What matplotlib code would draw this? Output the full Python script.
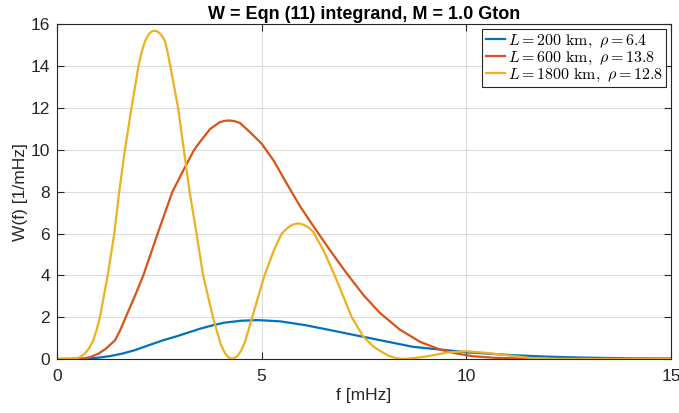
import matplotlib
matplotlib.use("Agg")
from matplotlib import pyplot as plt

# curves, f in mHz, W in 1/mHz
f_200 = [0, 0.6, 1.01, 1.3, 1.58, 1.9, 2.23, 2.6, 2.9, 3.2, 3.5, 3.82, 4.1, 4.5,
         4.9, 5.0, 5.45, 6.06, 6.5, 7.08, 7.89, 8.7, 9.52, 10.0, 11.15, 12.0,
         12.78, 14.0, 15.0]
w_200 = [0, 0.0, 0.06, 0.14, 0.25, 0.42, 0.65, 0.9, 1.07, 1.26, 1.45, 1.62, 1.74,
         1.83, 1.86, 1.85, 1.8, 1.62, 1.45, 1.22, 0.9, 0.58, 0.42, 0.32, 0.18,
         0.11, 0.07, 0.03, 0.02]

f_600 = [0, 0.6, 0.8, 1.01, 1.2, 1.42, 1.55, 1.68, 1.9, 2.11, 2.46, 2.82, 3.08,
         3.35, 3.5, 3.74, 3.98, 4.1, 4.21, 4.33, 4.47, 4.71, 5.0, 5.29, 5.61,
         5.94, 6.22, 6.67, 7.08, 7.49, 7.89, 8.38, 8.87, 9.36, 9.76, 10.17,
         10.74, 11.55, 12.5, 15.0]
w_600 = [0, 0.02, 0.08, 0.25, 0.5, 0.9, 1.4, 2.0, 3.0, 4.0, 6.0, 8.0, 9.0,
         10.0, 10.4, 11.0, 11.33, 11.39, 11.41, 11.38, 11.29, 10.86, 10.3, 9.5,
         8.4, 7.3, 6.48, 5.2, 4.09, 3.05, 2.2, 1.4, 0.82, 0.45, 0.26, 0.13,
         0.05, 0.02, 0.0, 0.0]

f_1800 = [0, 0.3, 0.44, 0.55, 0.68, 0.78, 0.89, 0.97, 1.05, 1.24, 1.4, 1.52,
          1.66, 1.82, 1.99, 2.07, 2.15, 2.2, 2.27, 2.33, 2.39, 2.45, 2.51, 2.57,
          2.64, 2.7, 2.77, 2.96, 3.1, 3.24, 3.41, 3.57, 3.81, 4.0, 4.1, 4.18,
          4.28, 4.4, 4.5, 4.6, 4.77, 5.07, 5.3, 5.49, 5.65, 5.75, 5.86, 5.95,
          6.05, 6.15, 6.26, 6.51, 6.75, 7.0, 7.2, 7.49, 7.73, 7.89, 8.1, 8.3,
          8.45, 8.7, 9.03, 9.3, 9.52, 10.0, 10.5, 10.99, 11.55, 12.1, 12.8, 15.0]
w_1800 = [0, 0, 0.02, 0.08, 0.25, 0.5, 0.9, 1.4, 2.0, 4.0, 6.0, 8.0,
          10.0, 12.0, 14.0, 14.7, 15.2, 15.39, 15.6, 15.68, 15.7, 15.67, 15.58,
          15.44, 15.2, 14.7, 14.0, 12.0, 10.0, 8.0, 6.0, 4.0, 2.0, 0.7, 0.29,
          0.09, 0.0, 0.12, 0.4, 0.85, 2.0, 4.0, 5.2, 6.0, 6.3, 6.42, 6.48, 6.47,
          6.4, 6.28, 6.08, 5.2, 4.16, 2.97, 2.0, 1.05, 0.6, 0.39, 0.15, 0.03,
          0.0, 0.04, 0.12, 0.22, 0.31, 0.37, 0.29, 0.18, 0.05, 0.01, 0.0, 0.0]

labels = [r'$L = 200\ \mathrm{km},\ \rho = 6.4$',
          r'$L = 600\ \mathrm{km},\ \rho = 13.8$',
          r'$L = 1800\ \mathrm{km},\ \rho = 12.8$']
colors = ['#0072BD', '#D95319', '#EDB120']

plt.rcParams['font.family'] = ['Liberation Sans', 'DejaVu Sans']
plt.rcParams['mathtext.fontset'] = 'cm'

fig = plt.figure(figsize=(6.79, 4.13), dpi=100)
ax = fig.add_axes([0.0839, 0.1308, 0.9043, 0.8099])

for fx, wy, lab, c in zip([f_200, f_600, f_1800], [w_200, w_600, w_1800], labels, colors):
    ax.plot(fx, wy, color=c, lw=1.6, label=lab, solid_joinstyle='round')

ax.set_xlim(0, 15)
ax.set_ylim(0, 16)
ax.set_xticks([0, 5, 10, 15])
ax.set_yticks(range(0, 17, 2))
ax.grid(color='#dcdcdc', linewidth=0.8)
ax.set_axisbelow(True)
ax.tick_params(direction='in', top=True, right=True, labelsize=12.5,
               colors='#262626', length=5, width=0.8)
ax.tick_params(axis='x', pad=7)
ax.tick_params(axis='y', pad=5)
for s in ax.spines.values():
    s.set_color('#262626')
    s.set_linewidth(0.8)

ax.set_xlabel('f [mHz]', fontsize=12.5, color='#262626', labelpad=3)
ax.set_ylabel('W(f) [1/mHz]', fontsize=12.5, color='#262626', labelpad=2)
ax.set_title('W = Eqn (11) integrand, M = 1.0 Gton', fontsize=13,
             fontweight='bold', pad=4)

leg = ax.legend(loc='upper right', fontsize=11.5, fancybox=False, framealpha=1,
                edgecolor='#262626', handlelength=1.2, handletextpad=0.2,
                borderpad=0.2, labelspacing=0.0, borderaxespad=0.3)
leg.get_frame().set_linewidth(0.8)

fig.savefig('out.png', dpi=100)
